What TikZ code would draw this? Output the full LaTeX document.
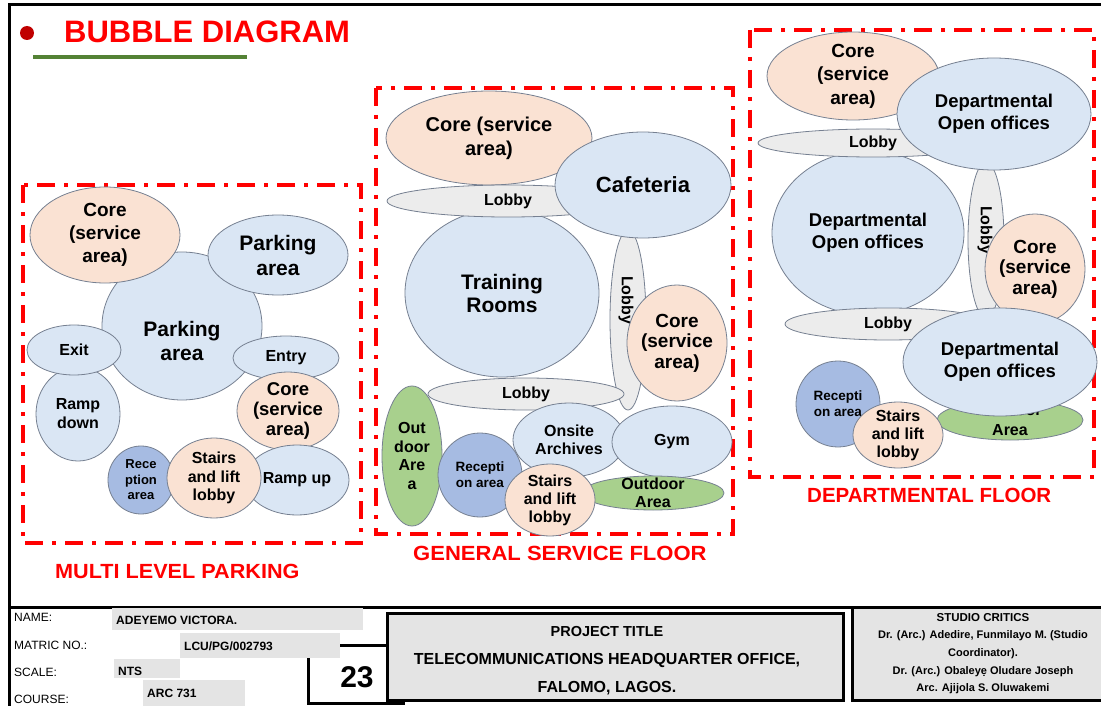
\documentclass[tikz,border=0pt]{standalone}
\usepackage{fontspec}
\setmainfont{Liberation Sans}
\usetikzlibrary{shapes.geometric}

\definecolor{bblue}{RGB}{218,230,244}
\definecolor{peach}{RGB}{250,226,211}
\definecolor{lgrey}{RGB}{236,236,236}
\definecolor{lgreen}{RGB}{168,208,141}
\definecolor{rblue}{RGB}{166,187,226}
\definecolor{edge}{RGB}{118,128,145}
\definecolor{boxgrey}{RGB}{228,228,228}
\definecolor{darkred}{RGB}{192,0,0}
\definecolor{ulgreen}{RGB}{84,130,53}

\tikzset{
  ft/.style 2 args={font=\bfseries\fontsize{#1}{#2}\selectfont},
  fr/.style 2 args={font=\fontsize{#1}{#2}\selectfont},
  sz/.style 2 args={minimum width=#1pt, minimum height=#2pt},
  bub/.style={ellipse, draw=edge, line width=0.8pt, inner sep=-8pt, align=center, ft={16}{19}},
  bluebub/.style={bub, fill=bblue},
  peachbub/.style={bub, fill=peach},
  lobbybub/.style={bub, fill=lgrey},
  greenbub/.style={bub, fill=lgreen},
  recbub/.style={bub, fill=rblue},
  lbl/.style={inner sep=0pt, align=center},
  zonebox/.style={draw=red, line width=4.5pt, dash pattern=on 18pt off 9pt on 4pt off 9pt},
  redtitle/.style={text=red, inner sep=0pt, anchor=west},
  greybox/.style={fill=boxgrey, draw=none},
  frame/.style={draw=black, line width=3pt},
}

\begin{document}
\begin{tikzpicture}[x=1pt,y=-1pt]
\useasboundingbox (0,0) rectangle (1101,706);
\fill[white] (0,0) rectangle (1101,706);

% sheet frame and title-block divider
\draw[frame] (9,709) -- (9,5) -- (1103,5);
\draw[frame] (9,607) -- (1103,607);

% heading
\node[circle, fill=darkred, inner sep=0pt, minimum size=14pt] (bullet) at (27,33) {};
\node[redtitle, ft={31}{36}] (head) at (64,32) {BUBBLE DIAGRAM};
\draw[ulgreen, line width=4pt] (33,57) -- (247,57);

% zone outlines
\draw[zonebox] (23,185) rectangle (361,543);
\draw[zonebox] (376,88) rectangle (733,534);
\draw[zonebox] (750,30) rectangle (1094,477);

% ---------- multi level parking ----------
\node[bluebub, sz={160}{148}] (pk-main) at (182,326) {};
\node[lbl, ft={21}{24}] (pk-main-t) at (182,341) {Parking\\area};
\node[peachbub, sz={150}{96}, ft={19}{23}] (core-l1) at (105,235) {Core\\(service\\area)};
\node[bluebub, sz={140}{80}, ft={21}{25}] (pk-top) at (278,255) {Parking\\area};
\node[bluebub, sz={84}{94}] (ramp-dn) at (78,414) {Ramp\\down};
\node[bluebub, sz={94}{50}] (exit) at (74,350) {Exit};
\node[bluebub, sz={106}{44}] (entry) at (286,358) {Entry};
\node[peachbub, sz={102}{78}, ft={18.5}{20}] (core-l2) at (288,411) {Core\\(service\\area)};
\node[bluebub, sz={104}{70}] (ramp-up) at (297,480) {Ramp up};
\node[recbub, sz={66}{68}, ft={13}{15.5}] (rec-l) at (141,480) {Rece\\ption\\area};
\node[peachbub, sz={94}{80}, ft={16}{18.5}] (stairs-l) at (214,478) {Stairs\\and lift\\lobby};

% ---------- general service floor ----------
\node[peachbub, sz={206}{94}, ft={20}{24}] (core-m1) at (489,138) {Core (service\\area)};
\node[bluebub, sz={194}{168}, ft={21}{23}] (train) at (502,293) {Training\\Rooms};
\node[lobbybub, sz={242}{32}] (lobby-m1) at (508,201) {Lobby};
\node[lobbybub, sz={180}{36}, rotate=-90] (lobby-mv) at (628,320) {};
\node[lbl, ft={16}{19}, rotate=-90] (lobby-mv-t) at (626,300) {Lobby};
\node[bluebub, sz={176}{106}, ft={22}{26}] (cafe) at (643,185) {Cafeteria};
\node[peachbub, sz={100}{116}, ft={19}{20.5}] (core-m2) at (677,343) {Core\\(service\\area)};
\node[lobbybub, sz={196}{32}] (lobby-m2) at (526,394) {Lobby};
\node[greenbub, sz={60}{140}, ft={16}{18.7}] (out-mv) at (412,456) {Out\\door\\Are\\a};
\node[bluebub, sz={112}{74}, ft={16}{18}] (arch) at (569,440) {Onsite\\Archives};
\node[recbub, sz={84}{84}, ft={13.5}{16}] (rec-m) at (480,475) {Recepti\\on area};
\node[bluebub, sz={120}{72}] (gym) at (672,442) {Gym};
\node[greenbub, sz={142}{34}, ft={16}{18}] (out-mh) at (653,493) {Outdoor\\Area};
\node[peachbub, sz={90}{72}, ft={16}{18}] (stairs-m) at (550,500) {Stairs\\and lift\\lobby};

% ---------- departmental floor ----------
\node[peachbub, sz={172}{88}, ft={19}{23.5}] (core-r1) at (853,76) {Core\\(service\\area)};
\node[bluebub, sz={192}{164}, ft={18.5}{22}] (dept-big) at (868,233) {Departmental\\Open offices};
\node[lobbybub, sz={156}{36}, rotate=-90] (lobby-rv) at (986,240) {};
\node[lbl, ft={16}{19}, rotate=-90] (lobby-rv-t) at (985,230) {Lobby};
\node[lobbybub, sz={230}{28}] (lobby-r1) at (873,143) {Lobby};
\node[bluebub, sz={194}{112}, ft={18.5}{22}] (dept-top) at (994,114) {Departmental\\Open offices};
\node[peachbub, sz={100}{110}, ft={19}{20.5}] (core-r2) at (1035,269) {Core\\(service\\area)};
\node[lobbybub, sz={206}{32}] (lobby-r2) at (888,324) {Lobby};
\node[greenbub, sz={146}{40}, ft={16}{20}] (out-r) at (1010,420) {Outdoor\\Area};
\node[bluebub, sz={194}{108}, ft={18.5}{22}] (dept-bot) at (1000,362) {Departmental\\Open offices};
\node[recbub, sz={84}{86}, ft={13.5}{16}] (rec-r) at (838,404) {Recepti\\on area};
\node[peachbub, sz={90}{66}, ft={16}{18}] (stairs-r) at (898,435) {Stairs\\and lift\\lobby};

% zone captions
\node[redtitle, ft={20.5}{24}] (cap-pk) at (55,571) {\scalebox{1.055}[1]{MULTI LEVEL PARKING}};
\node[redtitle, ft={20.5}{24}] (cap-gs) at (413,553) {\scalebox{1.075}[1]{GENERAL SERVICE FLOOR}};
\node[redtitle, ft={20.5}{24}] (cap-dp) at (807,495) {DEPARTMENTAL FLOOR};

% ---------- title block ----------
\draw[frame] (308,703) -- (308,645) -- (403,645) -- (403,703) -- cycle;
\node[lbl, ft={30}{34}] (sheet-no) at (357,677) {23};

\fill[greybox] (112,608) rectangle (363,630);
\fill[greybox] (180,633) rectangle (340,658);
\fill[greybox] (114,659) rectangle (180,678);
\fill[greybox] (143,680) rectangle (245,706);

\node[lbl, fr={12}{14}, anchor=west] (k-name) at (14,617) {NAME:};
\node[lbl, fr={12}{14}, anchor=west] (k-matric) at (14,645) {MATRIC NO.:};
\node[lbl, fr={12}{14}, anchor=west] (k-scale) at (14,672) {SCALE:};
\node[lbl, fr={12}{14}, anchor=west] (k-course) at (14,699) {COURSE:};
\node[lbl, ft={12}{14}, anchor=west] (v-name) at (116,620) {ADEYEMO VICTORA.};
\node[lbl, ft={12}{14}, anchor=west] (v-matric) at (184,646) {LCU/PG/002793};
\node[lbl, ft={12}{14}, anchor=west] (v-scale) at (118,671) {NTS};
\node[lbl, ft={12}{14}, anchor=west] (v-course) at (147,693) {ARC 731};

\node[frame, fill=boxgrey, inner sep=0pt, sz={456}{87}] (proj) at (615,656.5) {};
\node[lbl, ft={14.5}{17}] (proj-h) at (607,632) {PROJECT TITLE};
\node[lbl, ft={16}{19}] (proj-l1) at (607,660) {TELECOMMUNICATIONS HEADQUARTER OFFICE,};
\node[lbl, ft={16}{19}] (proj-l2) at (607,688) {FALOMO, LAGOS.};

\node[frame, fill=boxgrey, inner sep=0pt, sz={252}{93}] (critics) at (978,653.5) {};
\node[lbl, ft={11.5}{14}] (cr-h) at (983,618) {STUDIO CRITICS};
\node[lbl, ft={11}{13}] (cr-1) at (983,636) {Dr. (Arc.) Adedire, Funmilayo M. (Studio};
\node[lbl, ft={11}{13}] (cr-2) at (983,654) {Coordinator).};
\node[lbl, ft={11}{13}] (cr-3) at (983,671.5) {Dr. (Arc.) Obaleyẹ Oludare Joseph};
\node[lbl, ft={11}{13}] (cr-4) at (983,688.5) {Arc. Ajijola S. Oluwakemi};
\end{tikzpicture}
\end{document}
